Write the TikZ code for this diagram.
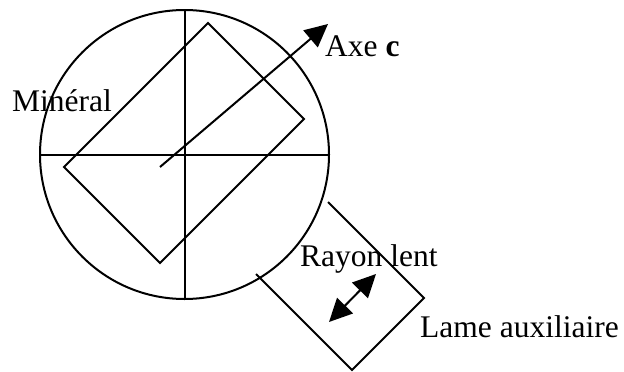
\documentclass[tikz,border=0pt]{standalone}
\usepackage{fontspec}
\setmainfont{Liberation Serif}
\usetikzlibrary{arrows.meta}
\tikzset{ln/.style={draw=black,line width=2pt},lbl/.style={inner sep=0pt,font=\fontsize{31.5}{34}\selectfont,text=black},tip/.style={}}
\begin{document}
\begin{tikzpicture}[x=1pt,y=-1pt]
\useasboundingbox (0,0) rectangle (624,372);
\coordinate (ctr) at (184.5,154.5);
\draw[ln] (ctr) circle (144.5);
\coordinate (vt) at (184.5,10);\coordinate (vb) at (184.5,298);
\coordinate (hl) at (40,154.5);\coordinate (hr) at (329,154.5);
\draw[ln] (vt)--(vb);
\draw[ln] (hl)--(hr);
\coordinate (r1) at (208,23);\coordinate (r2) at (304,119);\coordinate (r3) at (160,263);\coordinate (r4) at (64,167);
\draw[ln,line join=miter] (r1)--(r2)--(r3)--(r4)--cycle;
\coordinate (as) at (160,167);\coordinate (ae) at (328,24);
\draw[ln,-{Triangle[length=23pt,width=22pt]}] (as)--(ae);
\coordinate (b1) at (328,202);\coordinate (b2) at (424,298);\coordinate (b3) at (352,370);\coordinate (b4) at (256,274);
\draw[ln] (b1)--(b2)--(b3)--(b4);
\coordinate (d1) at (329,322);\coordinate (d2) at (376,274);
\draw[ln,{Triangle[length=23pt,width=22pt]}-{Triangle[length=23pt,width=22pt]}] (d1)--(d2);
\node[lbl,anchor=base west] (ta) at (325,56.5) {Axe \textbf{c}};
\node[lbl,anchor=base west] (tm) at (12,111.5) {Minéral};
\node[lbl,anchor=base west] (tr) at (300,266.5) {Rayon lent};
\node[lbl,anchor=base west] (tl) at (420,337.5) {Lame auxiliaire};
\end{tikzpicture}
\end{document}
